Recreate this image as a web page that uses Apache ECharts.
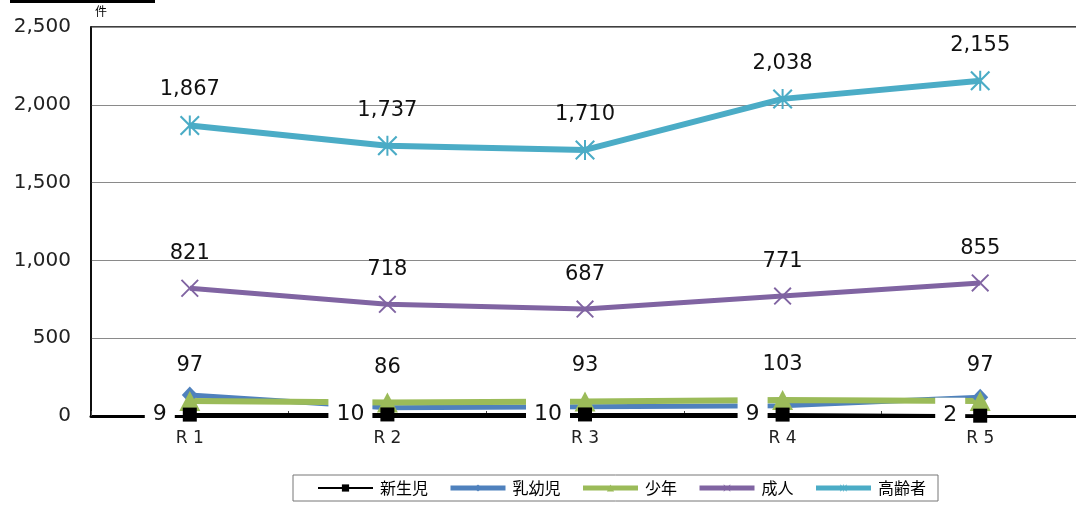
<!DOCTYPE html>
<html>
<head>
<meta charset="utf-8">
<script src="https://cdn.jsdelivr.net/npm/echarts@6/dist/echarts.min.js"></script>
<style>
  html, body { margin: 0; padding: 0; background: #fff; overflow: hidden; }
  #chart { width: 1080px; height: 505px; }
</style>
</head>
<body>
<div id="chart"></div>
<script>
// 年度別件数（件）
const categories = ['R 1', 'R 2', 'R 3', 'R 4', 'R 5'];
const newborn = [9, 10, 10, 9, 2];          // 新生児
const infant = [135, 53, 60, 66, 120];      // 乳幼児
const juvenile = [97, 86, 93, 103, 97];     // 少年
const adult = [821, 718, 687, 771, 855];    // 成人
const elderly = [1867, 1737, 1710, 2038, 2155]; // 高齢者
const yTicks = [0, 500, 1000, 1500, 2000, 2500];

const NUM_FONT = 'DejaVu Sans';
const CJK_FONT = '"Noto Sans CJK JP"';

// marker shapes made of thin filled strokes
const crossPath = 'path://M1.5,0L10,8.5L18.5,0L20,1.5L11.5,10L20,18.5L18.5,20L10,11.5L1.5,20L0,18.5L8.5,10L0,1.5Z';
const starPath = crossPath.replace('Z', 'ZM9,0L11,0L11,20L9,20Z');

const fmt = v => v.toLocaleString('en-US');

function topLabel() {
  return {
    show: true,
    position: 'top',
    distance: 15,
    color: '#111',
    fontFamily: NUM_FONT,
    fontSize: 21,
    formatter: p => fmt(p.value)
  };
}

const legendItem = (name, color, width) => ({
  name,
  lineStyle: { color, width },
  itemStyle: { color }
});

const chart = echarts.init(document.getElementById('chart'), null, { renderer: 'canvas' });

chart.setOption({
  animation: false,
  backgroundColor: '#fff',
  grid: {
    left: 91, top: 27, right: 1, bottom: 89,
    show: true, borderColor: '#000', borderWidth: 1.5, backgroundColor: 'transparent'
  },
  legend: {
    data: [
      legendItem('新生児', '#000', 2),
      legendItem('乳幼児', '#4F81BD', 5),
      legendItem('少年', '#9BBB59', 5),
      legendItem('成人', '#8064A2', 5),
      legendItem('高齢者', '#4BACC6', 5)
    ],
    left: 293,
    top: 475,
    itemWidth: 55,
    itemHeight: 9,
    itemGap: 20,
    padding: [5, 12, 5, 24],
    borderColor: '#777',
    borderWidth: 1,
    textStyle: { fontFamily: CJK_FONT, fontSize: 16, color: '#000', padding: [0, 0, 0, 2] }
  },
  graphic: [
    { type: 'rect', left: 10, top: 0, shape: { width: 145, height: 3 }, style: { fill: '#000' } },
    { type: 'text', left: 95, top: 5, style: { text: '件', font: '12px ' + CJK_FONT, fill: '#000' } }
  ],
  xAxis: {
    type: 'category',
    data: categories,
    boundaryGap: true,
    axisLine: { lineStyle: { color: '#000', width: 3 } },
    axisTick: { show: true, inside: true, length: 5, lineStyle: { color: '#444', width: 1 } },
    axisLabel: { color: '#222', fontFamily: NUM_FONT, fontSize: 17, margin: 14 }
  },
  yAxis: {
    type: 'value',
    min: yTicks[0],
    max: yTicks[yTicks.length - 1],
    interval: yTicks[1] - yTicks[0],
    axisLine: { show: true, lineStyle: { color: '#000', width: 1.5 } },
    axisTick: { show: false },
    splitLine: { lineStyle: { color: '#8a8a8a', width: 1 } },
    axisLabel: {
      color: '#222', fontFamily: NUM_FONT, fontSize: 20, margin: 20,
      formatter: v => fmt(v)
    }
  },
  series: [
    {
      name: '新生児', type: 'line', data: newborn, z: 4,
      symbol: 'rect', symbolSize: 14,
      lineStyle: { color: '#000', width: 3 },
      itemStyle: { color: '#000' },
      label: {
        show: true, position: 'left', distance: 8,
        color: '#111', fontFamily: NUM_FONT, fontSize: 22,
        backgroundColor: '#fff', padding: [7, 8, 7, 8]
      }
    },
    {
      name: '乳幼児', type: 'line', data: infant,
      symbol: 'diamond', symbolSize: [16, 17],
      lineStyle: { color: '#4F81BD', width: 5 },
      itemStyle: { color: '#4F81BD' }
    },
    {
      name: '少年', type: 'line', data: juvenile,
      symbol: 'triangle', symbolSize: [21, 20],
      lineStyle: { color: '#9BBB59', width: 6 },
      itemStyle: { color: '#9BBB59' },
      label: topLabel()
    },
    {
      name: '成人', type: 'line', data: adult,
      symbol: crossPath, symbolSize: 18,
      lineStyle: { color: '#8064A2', width: 5 },
      itemStyle: { color: '#8064A2' },
      label: topLabel()
    },
    {
      name: '高齢者', type: 'line', data: elderly,
      symbol: starPath, symbolSize: 20,
      lineStyle: { color: '#4BACC6', width: 6 },
      itemStyle: { color: '#4BACC6' },
      label: topLabel()
    }
  ]
});
</script>
</body>
</html>
